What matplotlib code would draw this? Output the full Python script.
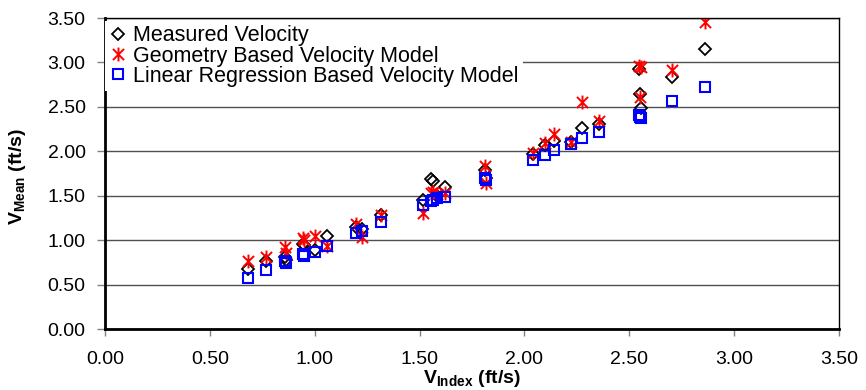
import numpy as np
import matplotlib.pyplot as plt
from matplotlib.path import Path

plt.rcParams['font.family'] = ['Liberation Sans', 'DejaVu Sans']
plt.rcParams['mathtext.fontset'] = 'custom'
plt.rcParams['mathtext.rm'] = 'Liberation Sans'
plt.rcParams['mathtext.bf'] = 'Liberation Sans:bold'

### Data

v_index = [0.68, 0.77, 0.86, 0.865, 0.945, 0.95, 1.00, 1.06, 1.195, 1.225,
           1.315, 1.515, 1.555, 1.565, 1.585, 1.62, 1.81, 1.815, 2.04, 2.10,
           2.14, 2.22, 2.275, 2.355, 2.545, 2.55, 2.555, 2.705, 2.86]
v_measured = [0.67, 0.76, 0.81, 0.78, 0.96, 0.95, 0.89, 1.05, 1.15, 1.13,
              1.28, 1.45, 1.69, 1.66, 1.50, 1.60, 1.79, 1.70, 1.97, 2.07,
              2.12, 2.10, 2.26, 2.31, 2.93, 2.65, 2.49, 2.84, 3.15]
v_geometry = [0.77, 0.81, 0.92, 0.86, 1.02, 1.00, 1.05, 0.93, 1.18, 1.04,
              1.28, 1.31, 1.53, 1.54, 1.52, 1.53, 1.83, 1.64, 1.98, 2.09,
              2.20, 2.11, 2.56, 2.34, 2.96, 2.61, 2.95, 2.91, 3.45]
v_regression = [0.57, 0.66, 0.76, 0.745, 0.84, 0.82, 0.87, 0.93, 1.08, 1.10,
                1.20, 1.39, 1.44, 1.45, 1.47, 1.49, 1.70, 1.68, 1.90, 1.96,
                2.01, 2.08, 2.15, 2.22, 2.41, 2.39, 2.38, 2.57, 2.72]

series_labels = ['Measured Velocity',
                 'Geometry Based Velocity Model',
                 'Linear Regression Based Velocity Model']
ticks = np.arange(0, 3.51, 0.5)

# Excel style star: an X with a vertical stroke through it
star = Path([(-1, -1), (1, 1), (-1, 1), (1, -1), (0, -1.25), (0, 1.25)],
            [Path.MOVETO, Path.LINETO, Path.MOVETO, Path.LINETO, Path.MOVETO, Path.LINETO])

fig = plt.figure(figsize=(8.66, 3.9), dpi=100)
ax = fig.add_axes([105 / 866, 61 / 390, 734 / 866, 311 / 390])

ax.plot(v_index, v_measured, linestyle='none', marker='D', markersize=6,
        markerfacecolor='none', markeredgecolor='black', markeredgewidth=1.3,
        label=series_labels[0])
ax.plot(v_index, v_geometry, linestyle='none', marker=star, markersize=10,
        markerfacecolor='none', markeredgecolor='#ff0000', markeredgewidth=1.4,
        label=series_labels[1])
ax.plot(v_index, v_regression, linestyle='none', marker='s', markersize=7,
        markerfacecolor='none', markeredgecolor='#0000ff', markeredgewidth=1.5,
        label=series_labels[2])

ax.set_xlim(0, 3.5)
ax.set_ylim(0, 3.5)
ax.set_xticks(ticks)
ax.set_yticks(ticks)
ax.set_xticklabels(['{:.2f}'.format(t) for t in ticks])
ax.set_yticklabels(['{:.2f}'.format(t) for t in ticks])
ax.tick_params(axis='x', labelsize=14, length=5, width=1, color='#808080',
               direction='out', pad=11)
ax.tick_params(axis='y', labelsize=14, length=6, width=1, color='#808080',
               direction='out', pad=8)

ax.yaxis.grid(True, color='#505050', linewidth=1)
ax.set_axisbelow(True)
for side in ['left', 'bottom']:
   ax.spines[side].set_linewidth(2)
for side in ['top', 'right']:
   ax.spines[side].set_linewidth(1)

ax.set_xlabel(r'$\mathbf{V_{Index}}$ (ft/s)', fontsize=14, fontweight='bold')
ax.set_ylabel(r'$\mathbf{V_{Mean}}$ (ft/s)', fontsize=14, fontweight='bold')
ax.xaxis.set_label_coords(0.5, -0.125)
ax.yaxis.set_label_coords(-0.105, 0.49)

leg = ax.legend(loc='upper left', bbox_to_anchor=(0.0, 0.99), fontsize=15.5,
                frameon=True, framealpha=1, edgecolor='none', facecolor='white',
                borderpad=0.2, labelspacing=-0.04, handlelength=0.8,
                handletextpad=0.3, borderaxespad=0, fancybox=False)

fig.savefig('out.png', dpi=100)
